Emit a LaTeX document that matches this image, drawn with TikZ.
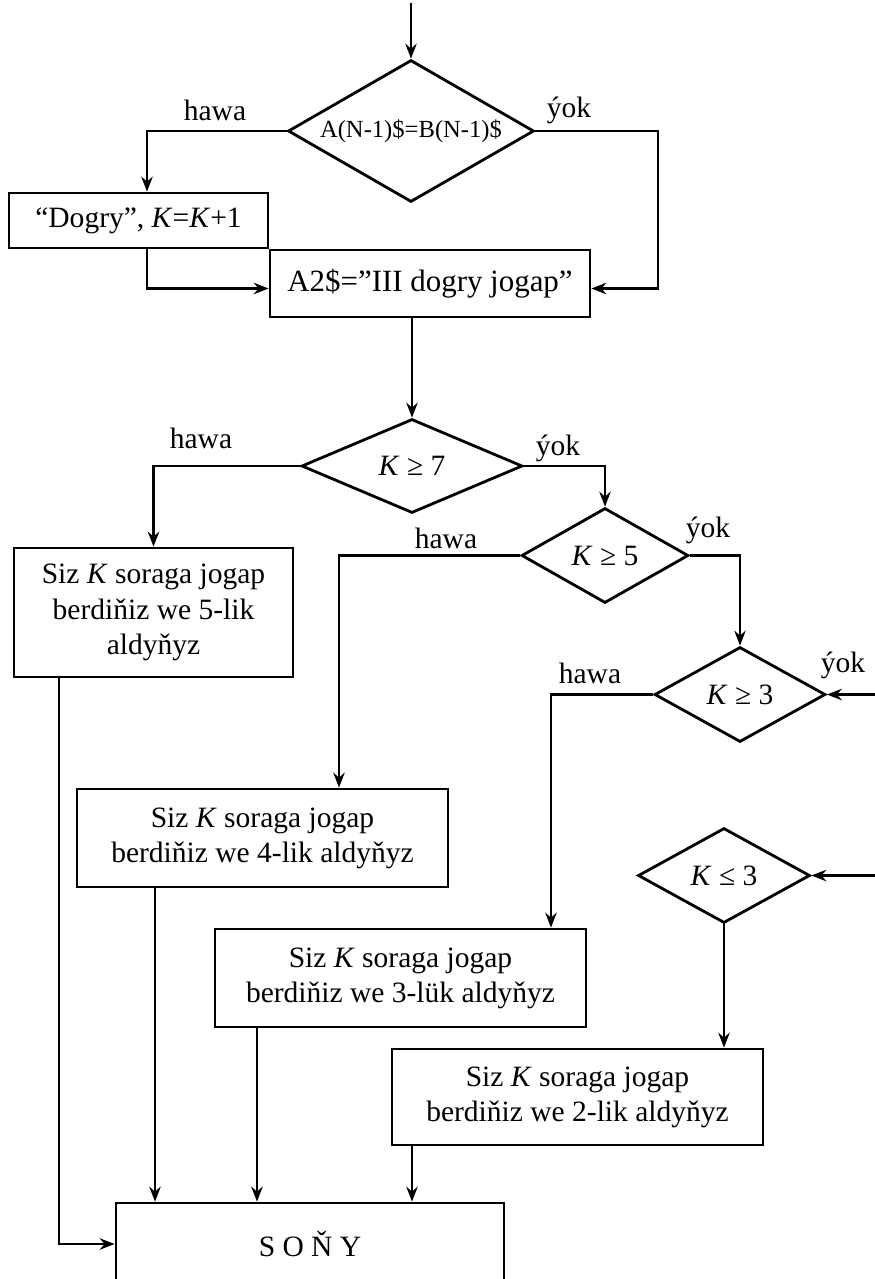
\documentclass[tikz,border=0pt]{standalone}
\usepackage{fontspec}
\setmainfont{Liberation Serif}
\usetikzlibrary{arrows.meta,shapes.geometric}

\begin{document}
\begin{tikzpicture}[
					x=0.02cm, y=-0.02cm,
					font=\fontsize{16.8}{20}\selectfont,
					flow box/.style={draw, line width=1.6pt, align=center, inner sep=0pt},
					flow decision/.style={draw, diamond, line width=1.6pt, inner sep=0pt, aspect=1.73},
					flow label/.style={inner sep=0pt},
					flow arrow/.style={line width=1.2pt, -{Stealth[length=3mm, width=2.3mm, inset=1mm]}},
				]
					\useasboundingbox (0,0) rectangle (875,1279);

					\node[flow decision, minimum width=4.92cm, minimum height=2.84cm, font=\fontsize{14}{17}\selectfont] (eq) at (411,131) {A(N-1)\$=B(N-1)\$};
					\node[flow box, minimum width=5.18cm, minimum height=1.1cm] (dogry) at (138.5,220.5) {“Dogry”, \textit{K}=\textit{K}+1};
					\node[flow box, minimum width=6.4cm, minimum height=1.34cm, font=\fontsize{17.6}{20}\selectfont] (jogap) at (430,283.5) {A2\$=”III dogry jogap”};

					\node[flow decision, minimum width=4.42cm, minimum height=1.88cm] (k7) at (412,466) {\textit{K} ≥ 7};
					\node[flow decision, minimum width=3.34cm, minimum height=1.9cm] (k5) at (605,555.5) {\textit{K} ≥ 5};
					\node[flow decision, minimum width=3.42cm, minimum height=1.9cm] (k3) at (740,694.5) {\textit{K} ≥ 3};
					\node[flow decision, minimum width=3.44cm, minimum height=1.9cm] (k3b) at (724,875.5) {\textit{K} ≤ 3};

					\node[flow box, minimum width=5.58cm, minimum height=2.58cm] (box5) at (153.5,612.5) {Siz \textit{K} soraga jogap\\berdiňiz we 5-lik\\aldyňyz};
					\node[flow box, minimum width=7.42cm, minimum height=1.96cm] (box4) at (262.5,838) {Siz \textit{K} soraga jogap\\berdiňiz we 4-lik aldyňyz};
					\node[flow box, minimum width=7.42cm, minimum height=1.96cm] (box3) at (400.5,978) {Siz \textit{K} soraga jogap\\berdiňiz we 3-lük aldyňyz};
					\node[flow box, minimum width=7.42cm, minimum height=1.92cm] (box2) at (577.5,1097) {Siz \textit{K} soraga jogap\\berdiňiz we 2-lik aldyňyz};
					\node[flow box, minimum width=7.76cm, minimum height=1.64cm] (end) at (310,1244) {S O Ň Y};

					\node[flow label] (eqyes) at (215,110) {hawa};
					\node[flow label] (eqno) at (569,110) {ýok};
					\node[flow label] (k7yes) at (201,438) {hawa};
					\node[flow label] (k7no) at (558,448) {ýok};
					\node[flow label] (k5yes) at (446,538) {hawa};
					\node[flow label] (k5no) at (708,530) {ýok};
					\node[flow label] (k3yes) at (590,673) {hawa};
					\node[flow label] (k3no) at (843,665) {ýok};

					\coordinate (top) at (411,3);
					\coordinate (in3) at (875,694.5);
					\coordinate (in3b) at (875,875.5);

					\draw[flow arrow] (top) -- (eq.north);
					\draw[flow arrow] (eq.west) -| ([xshift=1.7mm]dogry.north);
					\draw[flow arrow] (eq.east) -- ++(123,0) |- ([yshift=-1mm]jogap.east);
					\draw[flow arrow] ([xshift=1.7mm]dogry.south) |- ([yshift=-1mm]jogap.west);
					\draw[flow arrow] (jogap.south -| k7.north) -- (k7.north);
					\draw[flow arrow] (k7.west) -| (box5.north);
					\draw[flow arrow] (k7.east) -| (k5.north);
					\draw[flow arrow] (k5.west) -| ([xshift=1.53cm]box4.north);
					\draw[flow arrow] (k5.east) -| (k3.north);
					\draw[flow arrow] (in3) -- (k3.east);
					\draw[flow arrow] (k3.west) -| ([xshift=3.01cm]box3.north);
					\draw[flow arrow] (in3b) -- (k3b.east);
					\draw[flow arrow] (k3b.south) -- (k3b.south |- box2.north);
					\draw[flow arrow] (box5.south) ++(-94.5,0) coordinate (f5) |- (end.west);
					\draw[flow arrow] (box4.south) ++(-107.5,0) coordinate (f4) -- (f4 |- end.north);
					\draw[flow arrow] (box3.south) ++(-143.5,0) coordinate (f3) -- (f3 |- end.north);
					\draw[flow arrow] (box2.south) ++(-165.5,0) coordinate (f2) -- (f2 |- end.north);
				\end{tikzpicture}
\end{document}
